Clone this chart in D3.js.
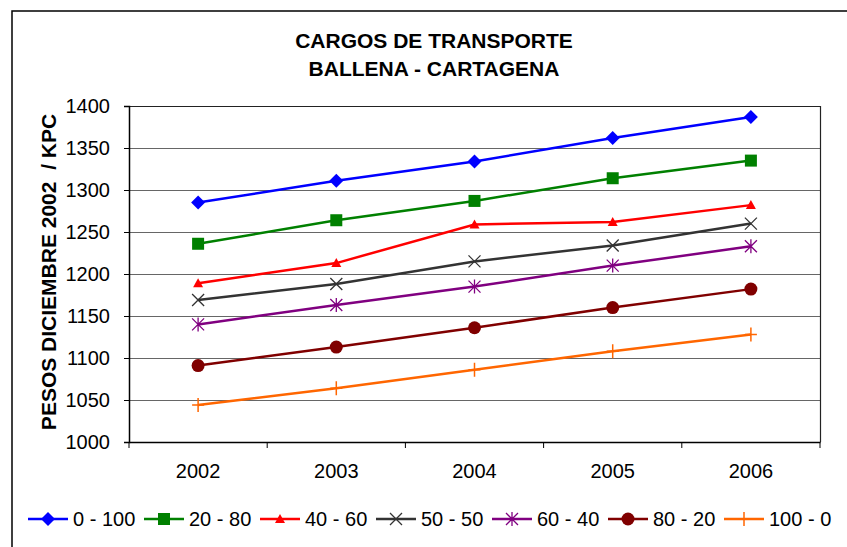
<!DOCTYPE html>
<html><head><meta charset="utf-8">
<script src="https://cdn.jsdelivr.net/npm/d3@7"></script>
<style>body{margin:0;background:#fff}svg{display:block;font-family:"Liberation Sans",Arial,sans-serif}</style>
</head><body><svg id="c" width="847" height="547"></svg>
<script>
const years = ["2002","2003","2004","2005","2006"];
const seriesNames = ["0 - 100","20 - 80","40 - 60","50 - 50","60 - 40","80 - 20","100 - 0"];
const s0_100 = [1285,1311,1334,1362,1387];
const s20_80 = [1236,1264,1287,1314,1335];
const s40_60 = [1189,1213,1259,1262,1282];
const s50_50 = [1169,1188,1215,1234,1260];
const s60_40 = [1140,1163,1185,1210,1233];
const s80_20 = [1091,1113,1136,1160,1182];
const s100_0 = [1044,1064,1086,1108,1128];
const yTicks = [1000,1050,1100,1150,1200,1250,1300,1350,1400];
const colors = ["#0000ff","#008000","#ff0000","#333333","#800080","#800000","#ff6600"];
const markers = ["diamond","square","triangle","x","star","circle","plus"];
const allSeries = [s0_100,s20_80,s40_60,s50_50,s60_40,s80_20,s100_0];

const svg = d3.select("#c");
const L=129, R=820, T=106, B=442;
svg.append("rect").attr("x",12).attr("y",11).attr("width",860).attr("height",560)
  .attr("fill","none").attr("stroke","#000").attr("stroke-width",1.5);

const x = d3.scaleBand().domain(years).range([L,R]);
const y = d3.scaleLinear().domain([1000,1400]).range([B,T]);

svg.append("g").selectAll("line").data(yTicks.slice(1)).join("line")
  .attr("x1",L).attr("x2",R).attr("y1",d=>Math.round(y(d))+0.5).attr("y2",d=>Math.round(y(d))+0.5)
  .attr("stroke","#666").attr("stroke-width",1);
svg.append("line").attr("x1",R+0.5).attr("x2",R+0.5).attr("y1",T).attr("y2",B).attr("stroke","#222").attr("stroke-width",1.2);
svg.append("line").attr("x1",L).attr("x2",R).attr("y1",T+0.5).attr("y2",T+0.5).attr("stroke","#222").attr("stroke-width",1.2);

const ya = svg.append("g").attr("transform",`translate(${L},0)`)
  .call(d3.axisLeft(y).tickValues(yTicks).tickSize(5).tickPadding(14).tickFormat(d3.format("d")));
ya.selectAll("text").attr("font-size",20).attr("fill","#000").attr("font-family","Liberation Sans, Arial, sans-serif");
ya.select(".domain").attr("stroke","#000").attr("stroke-width",1.5);
ya.selectAll(".tick line").attr("stroke","#000");

const xa = svg.append("g").attr("transform",`translate(0,${B})`)
  .call(d3.axisBottom(x).tickSize(0).tickPadding(22));
xa.selectAll("text").attr("font-size",20).attr("fill","#000").attr("font-family","Liberation Sans, Arial, sans-serif");
xa.select(".domain").attr("stroke","#000").attr("stroke-width",1.5);
const bounds = years.map(d=>x(d)).concat([R]);
xa.selectAll(".bt").data(bounds).join("line").attr("class","bt")
  .attr("x1",d=>d).attr("x2",d=>d).attr("y1",0).attr("y2",6).attr("stroke","#000");

function drawMarker(g, type, color){
  if(type==="diamond") g.append("path").attr("d","M0,-7L7,0L0,7L-7,0Z").attr("fill",color);
  else if(type==="square") g.append("rect").attr("x",-6).attr("y",-6).attr("width",12).attr("height",12).attr("fill",color);
  else if(type==="triangle") g.append("path").attr("d","M0,-5L5,4L-5,4Z").attr("fill",color);
  else if(type==="x") g.append("path").attr("d","M-6,-6L6,6M-6,6L6,-6").attr("stroke",color).attr("stroke-width",1.3).attr("fill","none");
  else if(type==="star") g.append("path").attr("d","M-6,-6L6,6M-6,6L6,-6M0,-7L0,7").attr("stroke",color).attr("stroke-width",1.3).attr("fill","none");
  else if(type==="circle") g.append("circle").attr("r",6.5).attr("fill",color);
  else if(type==="plus") g.append("path").attr("d","M-6,0L6,0M0,-7L0,7").attr("stroke",color).attr("stroke-width",1.5).attr("fill","none");
}

const line = d3.line().x((d,i)=>x(years[i])+x.bandwidth()/2).y(d=>y(d));
allSeries.forEach((vals,si)=>{
  const g = svg.append("g");
  g.append("path").datum(vals).attr("d",line).attr("fill","none").attr("stroke",colors[si]).attr("stroke-width",2.5);
  vals.forEach((v,i)=>{
    const mg = g.append("g").attr("transform",`translate(${x(years[i])+x.bandwidth()/2},${y(v)})`);
    drawMarker(mg, markers[si], colors[si]);
  });
});

svg.append("text").attr("x",434).attr("y",48).attr("text-anchor","middle").attr("font-size",21).attr("font-weight","bold").text("CARGOS DE TRANSPORTE");
svg.append("text").attr("x",434).attr("y",76).attr("text-anchor","middle").attr("font-size",21).attr("font-weight","bold").text("BALLENA - CARTAGENA");
svg.append("text").attr("transform",`translate(56,272) rotate(-90)`).attr("text-anchor","middle")
  .style("white-space","pre")
  .attr("font-size",21).attr("font-weight","bold").text("PESOS DICIEMBRE 2002  / KPC");

seriesNames.forEach((n,i)=>{
  const lx = 28 + i*116, ly = 519;
  const g = svg.append("g");
  g.append("line").attr("x1",lx).attr("x2",lx+40).attr("y1",ly).attr("y2",ly).attr("stroke",colors[i]).attr("stroke-width",2.5);
  const mg = g.append("g").attr("transform",`translate(${lx+20},${ly})`);
  drawMarker(mg, markers[i], colors[i]);
  g.append("text").attr("x",lx+45).attr("y",ly+7).attr("font-size",20).attr("fill","#000").text(n);
});
</script></body></html>
